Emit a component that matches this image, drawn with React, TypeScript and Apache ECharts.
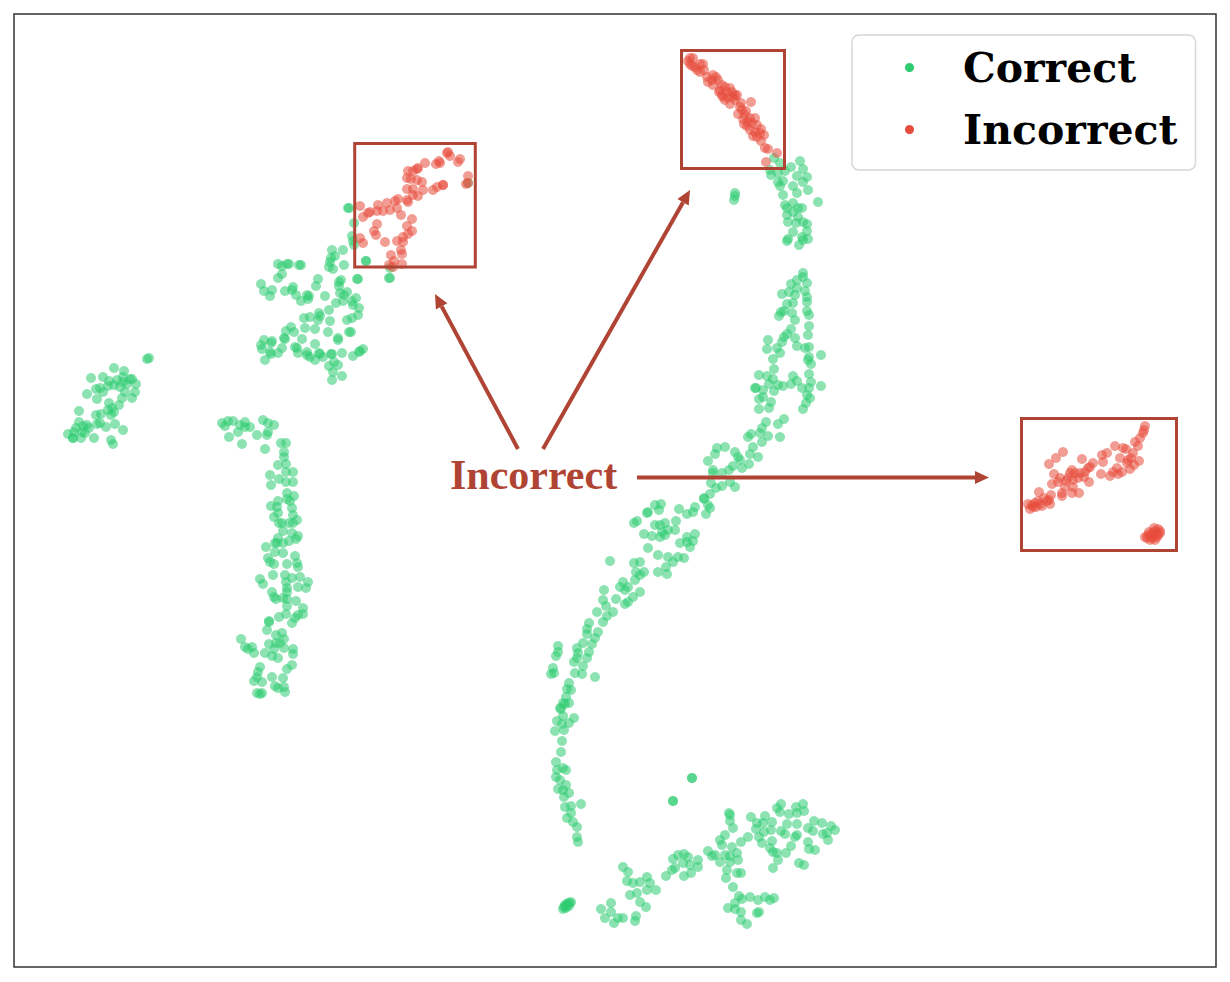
import React, { useEffect, useRef } from "react";
import * as echarts from "echarts";

type P = [number, number];

const correctLeftBlob: P[] = [[114,368],[124,371],[91,378],[103,377],[109,381],[117,380],[123,377],[130,379],[132,379],[123,382],[136,384],[96,389],[100,388],[108,386],[114,385],[120,387],[127,384],[103,392],[87,394],[97,399],[122,398],[125,392],[135,392],[132,398],[109,403],[119,405],[108,410],[112,408],[114,412],[79,411],[96,415],[101,414],[111,415],[79,422],[97,424],[100,423],[106,427],[115,424],[123,430],[76,428],[83,426],[87,425],[89,428],[68,434],[74,432],[82,432],[85,433],[73,438],[81,438],[94,438],[111,440],[113,444],[147,359],[149,358],[73,438]];

const correctUpperCluster: P[] = [[348,208],[349,208],[354,223],[352,236],[353,241],[354,245],[332,250],[343,250],[335,256],[331,258],[330,262],[329,267],[333,269],[344,265],[366,261],[366,261],[278,264],[282,266],[287,264],[289,264],[299,265],[301,265],[282,274],[278,278],[261,284],[264,291],[272,290],[270,296],[285,291],[292,290],[293,287],[296,295],[301,301],[307,295],[309,296],[308,299],[325,296],[318,279],[316,286],[341,280],[339,282],[339,286],[357,279],[358,279],[347,292],[340,293],[344,295],[343,301],[336,303],[329,310],[356,298],[352,301],[353,305],[359,308],[358,315],[352,318],[347,320],[319,313],[320,316],[318,320],[310,317],[304,318],[330,321],[291,327],[286,331],[294,332],[305,328],[315,329],[328,332],[349,332],[351,332],[338,338],[338,340],[302,339],[284,338],[285,339],[264,340],[272,341],[271,343],[261,345],[262,349],[270,352],[278,353],[282,348],[271,354],[265,360],[315,344],[295,347],[297,348],[298,353],[307,352],[307,355],[310,357],[319,353],[323,357],[320,354],[331,354],[332,354],[342,353],[315,360],[353,356],[360,351],[363,349],[359,352],[334,362],[338,365],[329,366],[333,372],[342,376],[332,380],[389,278],[390,278],[390,268],[468,183]];

const correctColumn: P[] = [[222,423],[228,421],[233,421],[225,426],[240,425],[245,422],[245,427],[250,427],[229,437],[238,432],[242,444],[257,435],[263,420],[268,423],[274,425],[268,432],[267,435],[265,449],[281,443],[286,443],[284,452],[284,457],[278,465],[286,464],[286,472],[293,472],[270,475],[279,479],[286,482],[293,482],[271,485],[287,493],[294,496],[278,501],[287,499],[290,501],[271,506],[277,507],[292,508],[278,513],[274,517],[293,515],[279,523],[282,523],[289,523],[293,523],[297,520],[283,531],[292,533],[298,536],[296,539],[278,538],[289,541],[283,543],[275,543],[266,547],[277,543],[275,552],[283,553],[295,556],[268,558],[270,562],[274,564],[287,564],[297,563],[298,567],[273,575],[285,575],[292,578],[300,577],[260,579],[263,584],[286,582],[308,582],[298,587],[306,588],[287,588],[272,592],[287,592],[274,597],[276,599],[283,598],[287,599],[296,601],[287,606],[303,608],[286,614],[279,617],[298,615],[303,614],[295,618],[292,623],[269,621],[269,622],[267,630],[276,635],[282,633],[241,639],[284,639],[245,647],[252,647],[248,649],[254,653],[269,644],[276,643],[280,643],[274,649],[284,648],[265,653],[272,656],[278,658],[293,649],[293,654],[292,665],[287,669],[260,667],[258,672],[257,677],[254,681],[272,677],[283,678],[262,682],[275,686],[278,688],[284,687],[285,692],[257,693],[262,693],[260,694]];

const correctTopRight: P[] = [[774,158],[780,163],[800,161],[791,167],[803,169],[770,170],[785,171],[778,173],[797,176],[807,177],[771,175],[803,182],[783,181],[778,182],[780,186],[793,186],[808,190],[797,193],[783,195],[818,202],[785,205],[793,203],[787,208],[802,208],[798,208],[787,215],[793,212],[798,217],[788,222],[796,223],[803,222],[807,224],[807,231],[793,232],[788,239],[787,241],[802,237],[808,239],[803,240],[799,245],[735,193],[735,196],[734,200]];

const correctRightBand: P[] = [[803,273],[803,277],[797,280],[791,284],[807,283],[797,288],[789,292],[805,291],[795,295],[782,294],[807,297],[807,302],[793,303],[787,304],[784,311],[781,312],[807,311],[792,313],[779,316],[809,315],[795,320],[809,326],[791,329],[787,334],[784,337],[808,335],[795,338],[768,340],[782,342],[797,346],[767,349],[777,348],[780,353],[805,348],[809,347],[821,355],[773,359],[809,357],[808,360],[811,364],[774,369],[809,374],[759,375],[767,376],[793,376],[773,379],[797,381],[769,384],[778,385],[783,386],[791,384],[811,382],[809,388],[802,388],[821,386],[755,388],[756,388],[763,390],[774,391],[807,395],[810,398],[759,399],[763,397],[771,402],[806,403],[769,408],[759,409],[803,409],[766,422],[784,419],[778,424],[762,428],[760,433],[751,434],[748,437],[768,436],[780,437],[762,442],[753,447],[725,447],[717,448],[715,454],[735,452],[738,457],[750,454],[758,457],[740,460],[749,464],[742,468],[733,466],[729,470],[708,461],[713,470],[713,473],[722,473],[730,482],[711,483],[722,486],[735,487],[716,488],[710,494],[704,498]];

const correctMiddleBand: P[] = [[704,499],[708,505],[710,508],[695,507],[693,512],[706,514],[679,509],[687,514],[655,505],[661,504],[659,510],[648,512],[647,513],[637,521],[634,523],[676,521],[655,525],[665,523],[660,525],[675,530],[668,530],[662,532],[644,534],[652,536],[660,537],[665,535],[687,537],[695,534],[693,541],[680,543],[687,542],[690,547],[648,548],[658,555],[668,557],[684,558],[678,557],[673,562],[610,561],[634,563],[640,562],[636,572],[644,572],[658,572],[666,567],[667,574],[640,575],[635,580],[623,582],[620,587],[625,590],[628,587],[640,592],[604,590],[603,600],[616,599],[633,597],[628,602],[625,604],[606,606],[597,612],[613,612],[607,616],[603,622],[589,623],[587,629],[598,632],[587,634],[595,638],[583,643],[592,644],[558,646],[577,648],[558,652],[556,656],[589,652],[578,653],[577,658],[587,658],[574,662],[583,666],[553,668],[554,673],[551,674],[575,673],[582,674],[595,677],[569,683],[567,689],[571,690],[566,697],[563,703],[569,703],[560,708]];

const correctTail: P[] = [[565,704],[561,709],[563,716],[557,721],[574,718],[562,724],[569,723],[555,731],[564,730],[562,741],[561,752],[556,762],[563,768],[557,770],[566,770],[556,777],[560,780],[566,785],[558,789],[563,790],[569,793],[564,797],[565,807],[571,806],[581,804],[571,813],[567,818],[573,822],[577,827],[577,837],[578,842],[692,778],[692,778],[673,801],[673,801]];

const correctBottomLeft: P[] = [[567,904],[568,903],[566,906],[565,905],[570,903],[564,907],[569,906],[566,908],[571,902],[563,909],[623,867],[628,872],[627,881],[633,883],[640,882],[647,877],[650,883],[656,890],[630,895],[637,893],[647,890],[640,902],[646,907],[666,876],[672,870],[675,868],[673,859],[678,855],[684,854],[688,857],[683,863],[690,865],[698,860],[698,867],[691,873],[684,876],[611,903],[601,909],[611,912],[605,918],[614,923],[618,918],[623,918],[636,916],[635,921]];

const correctBottomRight: P[] = [[708,851],[712,856],[715,855],[720,862],[725,855],[730,856],[737,853],[738,860],[730,862],[732,847],[720,840],[722,845],[725,835],[741,842],[748,837],[729,813],[730,815],[730,821],[733,828],[727,870],[726,878],[737,873],[741,873],[733,887],[739,896],[742,899],[750,897],[758,900],[765,897],[770,900],[774,898],[735,903],[728,908],[735,909],[741,912],[741,920],[747,924],[757,913],[759,912],[751,817],[757,823],[765,816],[763,823],[772,822],[756,829],[771,830],[759,837],[764,832],[762,843],[772,841],[770,848],[773,852],[777,853],[778,860],[773,868],[781,831],[787,824],[785,834],[797,824],[795,837],[791,846],[786,853],[797,835],[777,808],[781,804],[780,812],[789,814],[796,807],[797,813],[803,804],[804,811],[808,828],[814,821],[822,823],[813,831],[808,842],[809,849],[815,850],[823,834],[828,840],[831,826],[835,830],[827,833],[799,863],[804,865]];

const incorrectUpper: P[] = [[448,152],[447,153],[450,156],[460,159],[458,162],[439,161],[440,163],[436,164],[425,163],[417,169],[418,168],[413,171],[408,171],[468,176],[468,183],[466,184],[407,178],[411,179],[417,180],[422,182],[443,185],[443,185],[437,187],[433,190],[407,189],[413,189],[423,190],[418,196],[413,195],[407,200],[408,202],[398,199],[395,201],[387,203],[378,205],[360,206],[397,208],[390,210],[383,211],[377,211],[370,212],[368,213],[363,217],[401,215],[412,219],[407,226],[377,224],[374,231],[376,235],[412,231],[408,234],[403,237],[360,238],[363,243],[385,242],[397,241],[403,242],[401,250],[402,254],[391,255],[394,261],[389,265],[402,264],[393,267]];

const incorrectDiagonal: P[] = [[690,58],[693,58],[688,61],[700,64],[703,64],[690,64],[697,70],[700,72],[707,77],[713,75],[718,80],[708,82],[713,85],[720,90],[725,87],[730,88],[737,95],[723,97],[728,97],[733,97],[730,104],[741,103],[751,102],[738,114],[742,110],[746,111],[743,119],[750,118],[755,118],[752,123],[747,126],[761,129],[755,132],[764,135],[753,136],[757,137],[761,141],[765,148],[768,149],[777,153],[766,162],[735,95],[722,95],[695,67],[704,70],[712,80],[716,77],[722,85],[727,92],[732,92],[719,92],[725,100],[735,100],[740,107],[745,115],[748,122],[757,125],[760,133],[750,130],[744,124],[692,66]];

const incorrectRight: P[] = [[1145,426],[1144,430],[1143,433],[1140,438],[1135,442],[1138,446],[1115,446],[1123,448],[1126,449],[1107,453],[1102,455],[1133,453],[1120,458],[1128,460],[1139,461],[1134,465],[1063,452],[1056,458],[1049,464],[1082,459],[1103,462],[1093,463],[1088,468],[1085,472],[1117,468],[1113,472],[1130,469],[1122,472],[1110,476],[1101,474],[1054,474],[1070,473],[1075,473],[1080,473],[1060,478],[1058,482],[1052,484],[1073,480],[1089,482],[1065,487],[1073,487],[1039,492],[1051,495],[1062,493],[1062,496],[1072,493],[1079,493],[1049,500],[1047,501],[1050,504],[1038,501],[1035,503],[1028,504],[1033,507],[1042,506],[1030,509],[1032,505],[1068,478],[1072,470],[1078,478],[1084,477],[1066,481],[1040,504],[1036,507],[1044,498],[1090,467],[1118,474],[1127,463],[1131,458],[1158,529],[1155,531],[1152,533],[1160,533],[1157,537],[1148,535],[1145,537],[1150,540],[1155,540],[1153,535],[1160,531],[1147,538],[1156,534],[1151,537],[1154,528],[1158,535],[1149,532],[1153,538]];

const correctPoints: P[] = [
  ...correctLeftBlob, ...correctUpperCluster, ...correctColumn, ...correctTopRight,
  ...correctRightBand, ...correctMiddleBand, ...correctTail, ...correctBottomLeft, ...correctBottomRight,
];
const incorrectPoints: P[] = [...incorrectUpper, ...incorrectDiagonal, ...incorrectRight];

const seriesNames = ["Correct", "Incorrect"];
const annotationLabel = "Incorrect";
const ANNOT = "#b04434";

// [x1, y1, x2, y2], tip at x2, y2
const arrows = [[518, 449, 435, 294], [543, 449, 690, 190], [637, 477.5, 989, 477.5]];
// [x, y, w, h]
const boxes = [[354.7, 143.5, 120.6, 123.5], [681.5, 50.5, 103, 118], [1021.5, 418.5, 155, 132]];

function arrowElements() {
  const out: any[] = [];
  for (const [x1, y1, x2, y2] of arrows) {
    const d = Math.hypot(x2 - x1, y2 - y1);
    const ux = (x2 - x1) / d;
    const uy = (y2 - y1) / d;
    const bx = x2 - ux * 14;
    const by = y2 - uy * 14;
    out.push({ type: "line", z: 10, shape: { x1, y1, x2: bx, y2: by }, style: { stroke: ANNOT, lineWidth: 4 } });
    out.push({
      type: "polygon", z: 10,
      shape: { points: [[x2, y2], [bx - uy * 6.5, by + ux * 6.5], [bx + uy * 6.5, by - ux * 6.5]] },
      style: { fill: ANNOT },
    });
  }
  return out;
}

export default function App() {
  const ref = useRef<HTMLDivElement>(null);
  useEffect(() => {
    const chart = echarts.init(ref.current!, null, { renderer: "svg" });
    const marker = (color: string) => ({ color, opacity: 0.55, borderWidth: 0 });
    chart.setOption({
      animation: false,
      backgroundColor: "#ffffff",
      grid: { left: 14, top: 14, width: 1202, height: 953, show: true, borderColor: "#333333", borderWidth: 1.5, backgroundColor: "#ffffff" },
      xAxis: { type: "value", min: 14, max: 1216, show: false, splitLine: { show: false } },
      yAxis: { type: "value", min: 14, max: 967, inverse: true, show: false, splitLine: { show: false } },
      legend: {
        orient: "vertical",
        left: 852,
        top: 35,
        padding: [12, 18, 20, 53],
        itemGap: 21,
        itemWidth: 9,
        itemHeight: 9,
        icon: "circle",
        backgroundColor: "#ffffff",
        borderColor: "#d6d6d6",
        borderWidth: 1.5,
        borderRadius: 7,
        z: 20,
        selectedMode: false,
        itemStyle: { opacity: 1 },
        textStyle: { fontFamily: "DejaVu Serif", fontWeight: "bold", fontSize: 41, color: "#000000", padding: [0, 0, 0, 44] },
        data: seriesNames,
      },
      series: [
        { name: seriesNames[0], type: "scatter", symbol: "circle", symbolSize: 10, z: 2, silent: true, itemStyle: marker("#2ecc71"), data: correctPoints },
        { name: seriesNames[1], type: "scatter", symbol: "circle", symbolSize: 10, z: 3, silent: true, itemStyle: marker("#e74c3c"), data: incorrectPoints },
      ],
      graphic: [
        ...boxes.map(([x, y, width, height]) => ({
          type: "rect", z: 10, shape: { x, y, width, height },
          style: { fill: "none", stroke: ANNOT, lineWidth: 3 },
        })),
        ...arrowElements(),
        {
          type: "text", z: 10, x: 450, y: 454,
          style: { text: annotationLabel, fill: ANNOT, font: "bold 42px 'Liberation Serif'", textBaseline: "alphabetic", textAlign: "left" },
        },
      ],
    });
    return () => chart.dispose();
  }, []);
  return <div ref={ref} style={{ position: "absolute", left: 0, top: 0, width: 1230, height: 982 }} />;
}
